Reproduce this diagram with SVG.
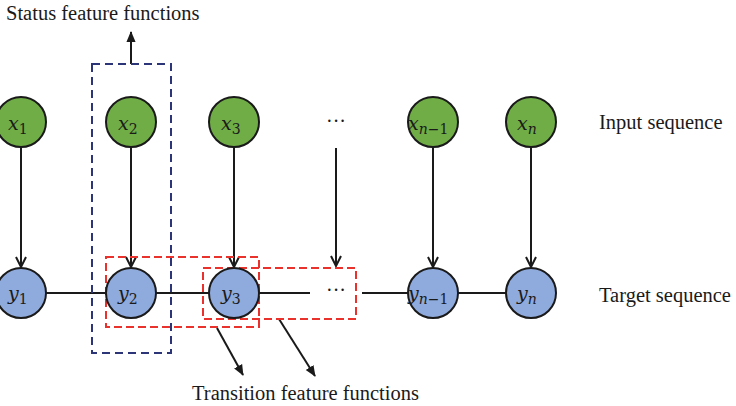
<svg xmlns="http://www.w3.org/2000/svg" width="736" height="406" viewBox="0 0 736 406">
<style>
.in{fill:#70ad47;stroke:#1a1a1a;stroke-width:2}
.out{fill:#8faadc;stroke:#1a1a1a;stroke-width:2}
.lbl{font-family:"DejaVu Serif","Liberation Serif",serif;font-style:italic;font-size:19px;fill:#1a1a1a}
.sub{font-size:14px}
.up{font-style:normal}
.txt{font-family:"Liberation Serif",serif;font-size:20.5px;fill:#1a1a1a}
.ln{stroke:#1a1a1a;stroke-width:2;fill:none}
.dots{font-family:"Liberation Serif",serif;font-size:20px;fill:#1a1a1a}
</style>
<defs>
<marker id="v" viewBox="0 0 12 12" refX="11" refY="6" markerWidth="12" markerHeight="12" markerUnits="userSpaceOnUse" orient="auto">
<path d="M1,1 L11,6 L1,11" fill="none" stroke="#1a1a1a" stroke-width="2"/>
</marker>
<marker id="f" viewBox="0 0 12 12" refX="11" refY="6" markerWidth="11" markerHeight="11" markerUnits="userSpaceOnUse" orient="auto">
<path d="M0,1 L12,6 L0,11 Z" fill="#1a1a1a"/>
</marker>
</defs>
<g id="connectors">
<line class="ln" x1="46" y1="293" x2="106" y2="293"/>
<line class="ln" x1="156" y1="293" x2="209" y2="293"/>
<line class="ln" x1="259" y1="293" x2="310" y2="293"/>
<line class="ln" x1="362" y1="293" x2="408" y2="293"/>
<line class="ln" x1="458" y1="293" x2="506" y2="293"/>
<line class="ln" x1="21" y1="147" x2="21" y2="267" marker-end="url(#v)"/>
<line class="ln" x1="131" y1="147" x2="131" y2="267" marker-end="url(#v)"/>
<line class="ln" x1="234" y1="147" x2="234" y2="267" marker-end="url(#v)"/>
<line class="ln" x1="336" y1="148" x2="336" y2="266" marker-end="url(#v)"/>
<line class="ln" x1="433" y1="147" x2="433" y2="267" marker-end="url(#v)"/>
<line class="ln" x1="531" y1="147" x2="531" y2="267" marker-end="url(#v)"/>
<line class="ln" x1="131" y1="64" x2="131" y2="32" marker-end="url(#f)"/>
<line class="ln" x1="217" y1="328" x2="243" y2="375" marker-end="url(#f)"/>
<line class="ln" x1="279" y1="319" x2="315" y2="376" marker-end="url(#f)"/>
</g>
<g id="status-box"><rect x="92" y="64" width="79" height="289" fill="none" stroke="#2b3577" stroke-width="2" stroke-dasharray="8,5"/></g>
<g id="transition-box-1"><rect x="106" y="257" width="153" height="70" fill="none" stroke="#e8322b" stroke-width="2" stroke-dasharray="8,4"/></g>
<g id="transition-box-2"><rect x="203" y="268" width="153" height="51" fill="none" stroke="#e8322b" stroke-width="2" stroke-dasharray="8,4"/></g>
<g id="x1"><circle class="in" cx="21" cy="122" r="25"/><text class="lbl" x="8" y="130">x<tspan class="sub up" dy="4">1</tspan></text></g>
<g id="x2"><circle class="in" cx="131" cy="122" r="25"/><text class="lbl" x="118" y="130">x<tspan class="sub up" dy="4">2</tspan></text></g>
<g id="x3"><circle class="in" cx="234" cy="122" r="25"/><text class="lbl" x="221" y="130">x<tspan class="sub up" dy="4">3</tspan></text></g>
<g id="xdots"><text class="dots" x="336" y="128" text-anchor="middle">···</text></g>
<g id="xn-1"><circle class="in" cx="433" cy="122" r="25"/><text class="lbl" x="408" y="130">x<tspan class="sub" dy="4">n</tspan><tspan class="sub up">−1</tspan></text></g>
<g id="xn"><circle class="in" cx="531" cy="122" r="25"/><text class="lbl" x="517" y="130">x<tspan class="sub" dy="4">n</tspan></text></g>
<g id="y1"><circle class="out" cx="21" cy="293" r="25"/><text class="lbl" x="8" y="300">y<tspan class="sub up" dy="4">1</tspan></text></g>
<g id="y2"><circle class="out" cx="131" cy="293" r="25"/><text class="lbl" x="118" y="300">y<tspan class="sub up" dy="4">2</tspan></text></g>
<g id="y3"><circle class="out" cx="234" cy="293" r="25"/><text class="lbl" x="221" y="300">y<tspan class="sub up" dy="4">3</tspan></text></g>
<g id="ydots"><text class="dots" x="336" y="297" text-anchor="middle">···</text></g>
<g id="yn-1"><circle class="out" cx="433" cy="293" r="25"/><text class="lbl" x="408" y="300">y<tspan class="sub" dy="4">n</tspan><tspan class="sub up">−1</tspan></text></g>
<g id="yn"><circle class="out" cx="531" cy="293" r="25"/><text class="lbl" x="517" y="300">y<tspan class="sub" dy="4">n</tspan></text></g>
<g id="labels">
<text class="txt" x="6" y="20">Status feature functions</text>
<text class="txt" x="599" y="129">Input sequence</text>
<text class="txt" x="599" y="302">Target sequence</text>
<text class="txt" x="192" y="400">Transition feature functions</text>
</g>
</svg>
